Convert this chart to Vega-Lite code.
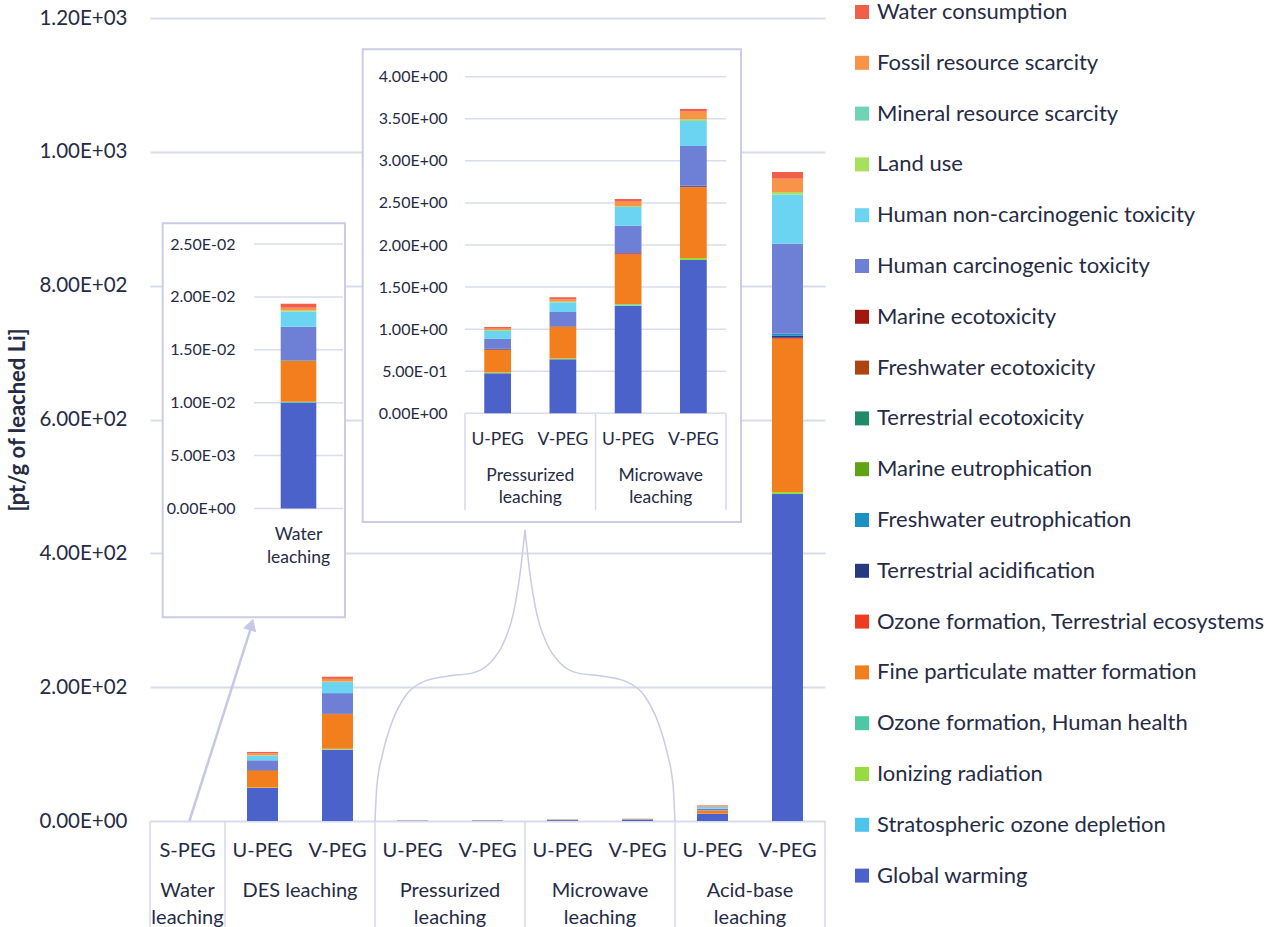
{
  "$schema": "https://vega.github.io/schema/vega-lite/v6.json",
  "width": 675,
  "height": 803,
  "autosize": {"type": "none"},
  "padding": {"left": 150, "top": 18, "right": 446, "bottom": 106},
  "background": "white",
  "config": {
    "font": "Lato",
    "view": {"stroke": null},
    "axis": {"labelFont": "Lato", "titleFont": "Lato", "labelColor": "#262B45", "titleColor": "#262B45"},
    "text": {"font": "Lato", "color": "#262B45"},
    "legend": {"labelFont": "Lato", "labelColor": "#262B45"}
  },
  "datasets": {
    "imp": [
      {"i": "Global warming", "k": 1},
      {"i": "Stratospheric ozone depletion", "k": 2},
      {"i": "Ionizing radiation", "k": 3},
      {"i": "Ozone formation, Human health", "k": 4},
      {"i": "Fine particulate matter formation", "k": 5},
      {"i": "Ozone formation, Terrestrial ecosystems", "k": 6},
      {"i": "Terrestrial acidification", "k": 7},
      {"i": "Freshwater eutrophication", "k": 8},
      {"i": "Marine eutrophication", "k": 9},
      {"i": "Terrestrial ecotoxicity", "k": 10},
      {"i": "Freshwater ecotoxicity", "k": 11},
      {"i": "Marine ecotoxicity", "k": 12},
      {"i": "Human carcinogenic toxicity", "k": 13},
      {"i": "Human non-carcinogenic toxicity", "k": 14},
      {"i": "Land use", "k": 15},
      {"i": "Mineral resource scarcity", "k": 16},
      {"i": "Fossil resource scarcity", "k": 17},
      {"i": "Water consumption", "k": 18}
    ],
    "lca": [
      {"b": "W:S-PEG", "i": "Global warming", "v": 0.0100},
      {"b": "W:S-PEG", "i": "Ozone formation, Human health", "v": 0.00008},
      {"b": "W:S-PEG", "i": "Fine particulate matter formation", "v": 0.00388},
      {"b": "W:S-PEG", "i": "Freshwater eutrophication", "v": 0.00006},
      {"b": "W:S-PEG", "i": "Human carcinogenic toxicity", "v": 0.00315},
      {"b": "W:S-PEG", "i": "Human non-carcinogenic toxicity", "v": 0.00145},
      {"b": "W:S-PEG", "i": "Land use", "v": 0.0001},
      {"b": "W:S-PEG", "i": "Fossil resource scarcity", "v": 0.00025},
      {"b": "W:S-PEG", "i": "Water consumption", "v": 0.00038},

      {"b": "D:U-PEG", "i": "Global warming", "v": 49.3},
      {"b": "D:U-PEG", "i": "Ionizing radiation", "v": 0.6},
      {"b": "D:U-PEG", "i": "Fine particulate matter formation", "v": 25.4},
      {"b": "D:U-PEG", "i": "Ozone formation, Terrestrial ecosystems", "v": 0.4},
      {"b": "D:U-PEG", "i": "Terrestrial acidification", "v": 0.5},
      {"b": "D:U-PEG", "i": "Human carcinogenic toxicity", "v": 14.5},
      {"b": "D:U-PEG", "i": "Human non-carcinogenic toxicity", "v": 7.0},
      {"b": "D:U-PEG", "i": "Land use", "v": 0.5},
      {"b": "D:U-PEG", "i": "Fossil resource scarcity", "v": 3.0},
      {"b": "D:U-PEG", "i": "Water consumption", "v": 2.0},

      {"b": "D:V-PEG", "i": "Global warming", "v": 106.6},
      {"b": "D:V-PEG", "i": "Ionizing radiation", "v": 1.5},
      {"b": "D:V-PEG", "i": "Fine particulate matter formation", "v": 51.3},
      {"b": "D:V-PEG", "i": "Ozone formation, Terrestrial ecosystems", "v": 0.5},
      {"b": "D:V-PEG", "i": "Terrestrial acidification", "v": 0.8},
      {"b": "D:V-PEG", "i": "Human carcinogenic toxicity", "v": 30.4},
      {"b": "D:V-PEG", "i": "Human non-carcinogenic toxicity", "v": 16.5},
      {"b": "D:V-PEG", "i": "Land use", "v": 0.8},
      {"b": "D:V-PEG", "i": "Fossil resource scarcity", "v": 4.0},
      {"b": "D:V-PEG", "i": "Water consumption", "v": 3.2},

      {"b": "P:U-PEG", "i": "Global warming", "v": 0.475},
      {"b": "P:U-PEG", "i": "Ionizing radiation", "v": 0.012},
      {"b": "P:U-PEG", "i": "Fine particulate matter formation", "v": 0.265},
      {"b": "P:U-PEG", "i": "Ozone formation, Terrestrial ecosystems", "v": 0.006},
      {"b": "P:U-PEG", "i": "Terrestrial acidification", "v": 0.008},
      {"b": "P:U-PEG", "i": "Human carcinogenic toxicity", "v": 0.119},
      {"b": "P:U-PEG", "i": "Human non-carcinogenic toxicity", "v": 0.095},
      {"b": "P:U-PEG", "i": "Land use", "v": 0.01},
      {"b": "P:U-PEG", "i": "Fossil resource scarcity", "v": 0.016},
      {"b": "P:U-PEG", "i": "Water consumption", "v": 0.02},

      {"b": "P:V-PEG", "i": "Global warming", "v": 0.642},
      {"b": "P:V-PEG", "i": "Ionizing radiation", "v": 0.012},
      {"b": "P:V-PEG", "i": "Fine particulate matter formation", "v": 0.372},
      {"b": "P:V-PEG", "i": "Ozone formation, Terrestrial ecosystems", "v": 0.004},
      {"b": "P:V-PEG", "i": "Terrestrial acidification", "v": 0.004},
      {"b": "P:V-PEG", "i": "Human carcinogenic toxicity", "v": 0.170},
      {"b": "P:V-PEG", "i": "Human non-carcinogenic toxicity", "v": 0.115},
      {"b": "P:V-PEG", "i": "Land use", "v": 0.008},
      {"b": "P:V-PEG", "i": "Fossil resource scarcity", "v": 0.028},
      {"b": "P:V-PEG", "i": "Water consumption", "v": 0.024},

      {"b": "M:U-PEG", "i": "Global warming", "v": 1.279},
      {"b": "M:U-PEG", "i": "Ionizing radiation", "v": 0.012},
      {"b": "M:U-PEG", "i": "Ozone formation, Human health", "v": 0.008},
      {"b": "M:U-PEG", "i": "Fine particulate matter formation", "v": 0.586},
      {"b": "M:U-PEG", "i": "Ozone formation, Terrestrial ecosystems", "v": 0.016},
      {"b": "M:U-PEG", "i": "Terrestrial acidification", "v": 0.004},
      {"b": "M:U-PEG", "i": "Human carcinogenic toxicity", "v": 0.325},
      {"b": "M:U-PEG", "i": "Human non-carcinogenic toxicity", "v": 0.222},
      {"b": "M:U-PEG", "i": "Land use", "v": 0.008},
      {"b": "M:U-PEG", "i": "Fossil resource scarcity", "v": 0.055},
      {"b": "M:U-PEG", "i": "Water consumption", "v": 0.032},

      {"b": "M:V-PEG", "i": "Global warming", "v": 1.822},
      {"b": "M:V-PEG", "i": "Ionizing radiation", "v": 0.024},
      {"b": "M:V-PEG", "i": "Fine particulate matter formation", "v": 0.840},
      {"b": "M:V-PEG", "i": "Ozone formation, Terrestrial ecosystems", "v": 0.006},
      {"b": "M:V-PEG", "i": "Terrestrial acidification", "v": 0.014},
      {"b": "M:V-PEG", "i": "Human carcinogenic toxicity", "v": 0.471},
      {"b": "M:V-PEG", "i": "Human non-carcinogenic toxicity", "v": 0.297},
      {"b": "M:V-PEG", "i": "Land use", "v": 0.02},
      {"b": "M:V-PEG", "i": "Fossil resource scarcity", "v": 0.091},
      {"b": "M:V-PEG", "i": "Water consumption", "v": 0.032},

      {"b": "A:U-PEG", "i": "Global warming", "v": 10.5},
      {"b": "A:U-PEG", "i": "Ionizing radiation", "v": 0.3},
      {"b": "A:U-PEG", "i": "Fine particulate matter formation", "v": 5.0},
      {"b": "A:U-PEG", "i": "Human carcinogenic toxicity", "v": 2.5},
      {"b": "A:U-PEG", "i": "Human non-carcinogenic toxicity", "v": 3.0},
      {"b": "A:U-PEG", "i": "Fossil resource scarcity", "v": 1.0},
      {"b": "A:U-PEG", "i": "Water consumption", "v": 1.0},

      {"b": "A:V-PEG", "i": "Global warming", "v": 488.6},
      {"b": "A:V-PEG", "i": "Ionizing radiation", "v": 3.0},
      {"b": "A:V-PEG", "i": "Fine particulate matter formation", "v": 229.0},
      {"b": "A:V-PEG", "i": "Ozone formation, Terrestrial ecosystems", "v": 1.5},
      {"b": "A:V-PEG", "i": "Terrestrial acidification", "v": 3.0},
      {"b": "A:V-PEG", "i": "Freshwater eutrophication", "v": 3.0},
      {"b": "A:V-PEG", "i": "Human carcinogenic toxicity", "v": 134.5},
      {"b": "A:V-PEG", "i": "Human non-carcinogenic toxicity", "v": 73.8},
      {"b": "A:V-PEG", "i": "Land use", "v": 3.5},
      {"b": "A:V-PEG", "i": "Fossil resource scarcity", "v": 20.0},
      {"b": "A:V-PEG", "i": "Water consumption", "v": 10.0}
    ],
    "brace": [
      {"s": "L", "u": 3.0, "v": 0}, {"s": "L", "u": 3.024, "v": 51}, {"s": "L", "u": 3.103, "v": 101},
      {"s": "L", "u": 3.221, "v": 146}, {"s": "L", "u": 3.40, "v": 186}, {"s": "L", "u": 3.639, "v": 208},
      {"s": "L", "u": 3.997, "v": 217}, {"s": "L", "u": 4.295, "v": 221}, {"s": "L", "u": 4.533, "v": 236},
      {"s": "L", "u": 4.713, "v": 266}, {"s": "L", "u": 4.844, "v": 310}, {"s": "L", "u": 4.94, "v": 375},
      {"s": "L", "u": 5.0, "v": 435},
      {"s": "R", "u": 7.0, "v": 0}, {"s": "R", "u": 6.976, "v": 51}, {"s": "R", "u": 6.897, "v": 101},
      {"s": "R", "u": 6.779, "v": 146}, {"s": "R", "u": 6.60, "v": 186}, {"s": "R", "u": 6.361, "v": 208},
      {"s": "R", "u": 6.003, "v": 217}, {"s": "R", "u": 5.705, "v": 221}, {"s": "R", "u": 5.467, "v": 236},
      {"s": "R", "u": 5.287, "v": 266}, {"s": "R", "u": 5.156, "v": 310}, {"s": "R", "u": 5.06, "v": 375},
      {"s": "R", "u": 5.0, "v": 435}
    ],
    "boxes": [
      {"u": 0.169, "u2": 2.6, "v": 304.4, "v2": 893.2},
      {"u": 2.836, "u2": 7.88, "v": 446.8, "v2": 1153.3}
    ],
    "grp": [
      {"g": "Water\nleaching", "c": 0.5},
      {"g": "DES leaching", "c": 2},
      {"g": "Pressurized\nleaching", "c": 4},
      {"g": "Microwave\nleaching", "c": 6},
      {"g": "Acid-base\nleaching", "c": 8}
    ]
  },
  "layer": [
    {
      "data": {"name": "lca"},
      "transform": [{"lookup": "i", "from": {"data": {"name": "imp"}, "key": "i", "fields": ["k"]}}],
      "mark": {"type": "bar"},
      "encoding": {
        "x": {
          "field": "b", "type": "nominal", "sort": null,
          "scale": {"domain": ["W:S-PEG", "D:U-PEG", "D:V-PEG", "P:U-PEG", "P:V-PEG", "M:U-PEG", "M:V-PEG", "A:U-PEG", "A:V-PEG"], "paddingInner": 0.587, "paddingOuter": 0.2935},
          "axis": {"orient": "bottom", "title": null, "domain": false, "ticks": false, "tickSize": 0, "grid": false, "labelAngle": 0, "labelPadding": 29.5, "labelBaseline": "middle", "labelFontSize": 20, "labelExpr": "slice(datum.label, 2)"}
        },
        "y": {
          "field": "v", "type": "quantitative",
          "scale": {"domain": [0, 1200], "nice": false},
          "axis": {"orient": "left", "title": "[pt/g of leached Li]", "values": [0, 200, 400, 600, 800, 1000, 1200],
            "labelExpr": "slice(format(datum.value,'.2e'),0,4) + 'E' + slice(format(datum.value,'.2e'),5,6) + (length(format(datum.value,'.2e')) == 7 ? '0' : '') + slice(format(datum.value,'.2e'),6)",
            "grid": true, "gridColor": "#D8DBEC", "gridWidth": 2, "domain": false, "ticks": false, "tickSize": 0,
            "labelPadding": 23, "labelFontSize": 20.5, "titleFontSize": 22, "titleFontWeight": "bold", "titlePadding": 9}
        },
        "color": {
          "field": "i", "type": "nominal",
          "scale": {
            "domain": ["Water consumption", "Fossil resource scarcity", "Mineral resource scarcity", "Land use", "Human non-carcinogenic toxicity", "Human carcinogenic toxicity", "Marine ecotoxicity", "Freshwater ecotoxicity", "Terrestrial ecotoxicity", "Marine eutrophication", "Freshwater eutrophication", "Terrestrial acidification", "Ozone formation, Terrestrial ecosystems", "Fine particulate matter formation", "Ozone formation, Human health", "Ionizing radiation", "Stratospheric ozone depletion", "Global warming"],
            "range": ["#F25E48", "#F79448", "#6ED4B4", "#A6E05C", "#6AD4F2", "#6E80D6", "#A2180E", "#AE4410", "#208A68", "#5EA412", "#1A90C4", "#253A80", "#F03C1E", "#F27E1E", "#4DC8A4", "#96DC40", "#4CC4EC", "#4A62C9"]
          },
          "legend": {"title": null, "orient": "none", "legendX": 701, "legendY": -17, "symbolType": "square", "symbolSize": 196, "symbolStrokeWidth": 0, "labelFontSize": 22, "labelOffset": 4, "rowPadding": 28.8, "labelLimit": 500, "padding": 0, "direction": "vertical"}
        },
        "order": {"field": "k", "type": "quantitative"}
      }
    },
    {
      "layer": [
        {
          "data": {"values": [{"u": 0}, {"u": 1}, {"u": 3}, {"u": 5}, {"u": 7}, {"u": 9}]},
          "mark": {"type": "rule", "color": "#D6D9EA", "strokeWidth": 1.5},
          "encoding": {
            "x": {"field": "u", "type": "quantitative", "scale": {"domain": [0, 9], "nice": false, "zero": false}, "axis": null},
            "y": {"datum": 0, "type": "quantitative", "scale": {"domain": [0, 1200], "nice": false}, "axis": null},
            "y2": {"datum": -160}
          }
        },
        {
          "data": {"name": "brace"},
          "mark": {"type": "line", "color": "#C9CCE3", "strokeWidth": 1.5, "interpolate": "monotone"},
          "encoding": {
            "x": {"field": "u", "type": "quantitative", "scale": {"domain": [0, 9], "nice": false, "zero": false}, "axis": null},
            "y": {"field": "v", "type": "quantitative", "scale": {"domain": [0, 1200], "nice": false}, "axis": null},
            "detail": {"field": "s"}
          }
        },
        {
          "data": {"values": [{}]},
          "mark": {"type": "rule", "color": "#C5C9E3", "strokeWidth": 2.5},
          "encoding": {
            "x": {"datum": 0.525, "type": "quantitative", "scale": {"domain": [0, 9], "nice": false, "zero": false}, "axis": null},
            "y": {"datum": 0, "type": "quantitative", "scale": {"domain": [0, 1200], "nice": false}, "axis": null},
            "x2": {"datum": 1.35},
            "y2": {"datum": 290}
          }
        },
        {
          "data": {"values": [{}]},
          "mark": {"type": "point", "shape": "triangle-up", "angle": 17, "size": 190, "filled": true, "color": "#C5C9E3", "opacity": 1},
          "encoding": {
            "x": {"datum": 1.352, "type": "quantitative", "scale": {"domain": [0, 9], "nice": false, "zero": false}, "axis": null},
            "y": {"datum": 293.6, "type": "quantitative", "scale": {"domain": [0, 1200], "nice": false}, "axis": null}
          }
        },
        {
          "data": {"name": "boxes"},
          "mark": {"type": "rect", "fill": "white", "stroke": "#CACDE5", "strokeWidth": 2},
          "encoding": {
            "x": {"field": "u", "type": "quantitative", "scale": {"domain": [0, 9], "nice": false, "zero": false}, "axis": null},
            "x2": {"field": "u2"},
            "y": {"field": "v", "type": "quantitative", "scale": {"domain": [0, 1200], "nice": false}, "axis": null},
            "y2": {"field": "v2"}
          }
        },
        {
          "data": {"name": "grp"},
          "mark": {"type": "text", "lineBreak": "\n", "baseline": "top", "align": "center", "fontSize": 20, "lineHeight": 26.7},
          "encoding": {
            "x": {"field": "c", "type": "quantitative", "scale": {"domain": [0, 9], "nice": false, "zero": false}, "axis": null},
            "y": {"datum": -90.3, "type": "quantitative", "scale": {"domain": [0, 1200], "nice": false}, "axis": null},
            "text": {"field": "g"}
          }
        }
      ]
    },
    {
      "layer": [
        {
          "data": {"values": [{"t": 0}, {"t": 0.005}, {"t": 0.01}, {"t": 0.015}, {"t": 0.02}, {"t": 0.025}]},
          "mark": {"type": "rule", "color": "#DADDED", "strokeWidth": 1.5},
          "encoding": {
            "x": {"datum": 0, "type": "quantitative", "scale": {"domain": [0, 1], "range": [104, 193], "nice": false, "zero": false}, "axis": null},
            "x2": {"datum": 1},
            "y": {"field": "t", "type": "quantitative", "scale": {"domain": [0, 0.025], "range": [490.5, 226], "nice": false},
              "axis": {"orient": "left", "offset": -85, "values": [0, 0.005, 0.01, 0.015, 0.02, 0.025], "title": null,
                "labelExpr": "slice(format(datum.value,'.2e'),0,4) + 'E' + slice(format(datum.value,'.2e'),5,6) + (length(format(datum.value,'.2e')) == 7 ? '0' : '') + slice(format(datum.value,'.2e'),6)",
                "grid": false, "domain": false, "ticks": false, "tickSize": 0, "labelPadding": 0, "labelFontSize": 16, "zindex": 1}}
          }
        },
        {
          "data": {"values": [{"g": "Water\nleaching"}]},
          "mark": {"type": "text", "lineBreak": "\n", "baseline": "top", "align": "center", "fontSize": 17.5, "lineHeight": 23.4},
          "encoding": {
            "x": {"datum": 0.5, "type": "quantitative", "scale": {"domain": [0, 1], "range": [104, 193], "nice": false, "zero": false}, "axis": null},
            "y": {"datum": -0.001635, "type": "quantitative", "scale": {"domain": [0, 0.025], "range": [490.5, 226], "nice": false}},
            "text": {"field": "g"}
          }
        },
        {
          "data": {"name": "lca"},
          "transform": [
            {"filter": {"field": "b", "equal": "W:S-PEG"}},
            {"lookup": "i", "from": {"data": {"name": "imp"}, "key": "i", "fields": ["k"]}}
          ],
          "mark": {"type": "bar"},
          "encoding": {
            "x": {"field": "b", "type": "nominal", "sort": null, "scale": {"domain": ["W:S-PEG"], "range": [104, 193], "paddingInner": 0.6, "paddingOuter": 0.3}, "axis": null},
            "y": {"field": "v", "type": "quantitative", "scale": {"domain": [0, 0.025], "range": [490.5, 226], "nice": false}},
            "color": {"field": "i", "type": "nominal"},
            "order": {"field": "k", "type": "quantitative"}
          }
        }
      ],
      "resolve": {"scale": {"x": "independent"}, "axis": {"x": "independent"}}
    },
    {
      "layer": [
        {
          "data": {"values": [{"t": 0}, {"t": 0.5}, {"t": 1}, {"t": 1.5}, {"t": 2}, {"t": 2.5}, {"t": 3}, {"t": 3.5}, {"t": 4}]},
          "mark": {"type": "rule", "color": "#DADDED", "strokeWidth": 1.5},
          "encoding": {
            "x": {"datum": 0, "type": "quantitative", "scale": {"domain": [0, 4], "range": [315, 576], "nice": false, "zero": false}, "axis": null},
            "x2": {"datum": 4},
            "y": {"field": "t", "type": "quantitative", "scale": {"domain": [0, 4], "range": [395.3, 58.7], "nice": false},
              "axis": {"orient": "left", "offset": -297, "values": [0, 0.5, 1, 1.5, 2, 2.5, 3, 3.5, 4], "title": null,
                "labelExpr": "slice(format(datum.value,'.2e'),0,4) + 'E' + slice(format(datum.value,'.2e'),5,6) + (length(format(datum.value,'.2e')) == 7 ? '0' : '') + slice(format(datum.value,'.2e'),6)",
                "grid": false, "domain": false, "ticks": false, "tickSize": 0, "labelPadding": 0, "labelFontSize": 16, "zindex": 1}}
          }
        },
        {
          "data": {"values": [{"u": 0}, {"u": 2}, {"u": 4}]},
          "mark": {"type": "rule", "color": "#D6D9EA", "strokeWidth": 1.5},
          "encoding": {
            "x": {"field": "u", "type": "quantitative", "scale": {"domain": [0, 4], "range": [315, 576], "nice": false, "zero": false}, "axis": null},
            "y": {"datum": 0, "type": "quantitative", "scale": {"domain": [0, 4], "range": [395.3, 58.7], "nice": false}},
            "y2": {"datum": -1.149}
          }
        },
        {
          "data": {"values": [{"g": "Pressurized\nleaching", "c": 1}, {"g": "Microwave\nleaching", "c": 3}]},
          "mark": {"type": "text", "lineBreak": "\n", "baseline": "top", "align": "center", "fontSize": 17.5, "lineHeight": 21.7},
          "encoding": {
            "x": {"field": "c", "type": "quantitative", "scale": {"domain": [0, 4], "range": [315, 576], "nice": false, "zero": false}, "axis": null},
            "y": {"datum": -0.644, "type": "quantitative", "scale": {"domain": [0, 4], "range": [395.3, 58.7], "nice": false}},
            "text": {"field": "g"}
          }
        },
        {
          "data": {"name": "lca"},
          "transform": [
            {"filter": {"field": "b", "oneOf": ["P:U-PEG", "P:V-PEG", "M:U-PEG", "M:V-PEG"]}},
            {"lookup": "i", "from": {"data": {"name": "imp"}, "key": "i", "fields": ["k"]}}
          ],
          "mark": {"type": "bar"},
          "encoding": {
            "x": {"field": "b", "type": "nominal", "sort": null,
              "scale": {"domain": ["P:U-PEG", "P:V-PEG", "M:U-PEG", "M:V-PEG"], "range": [315, 576], "paddingInner": 0.59, "paddingOuter": 0.295},
              "axis": {"orient": "bottom", "offset": -407.7, "title": null, "domain": false, "ticks": false, "tickSize": 0, "grid": false, "labelAngle": 0, "labelPadding": 26, "labelBaseline": "middle", "labelFontSize": 17.5, "labelExpr": "slice(datum.label, 2)", "zindex": 1}},
            "y": {"field": "v", "type": "quantitative", "scale": {"domain": [0, 4], "range": [395.3, 58.7], "nice": false}},
            "color": {"field": "i", "type": "nominal"},
            "order": {"field": "k", "type": "quantitative"}
          }
        }
      ],
      "resolve": {"scale": {"x": "independent"}, "axis": {"x": "independent"}}
    }
  ],
  "resolve": {"scale": {"x": "independent", "y": "independent"}, "axis": {"x": "independent", "y": "independent"}}
}
